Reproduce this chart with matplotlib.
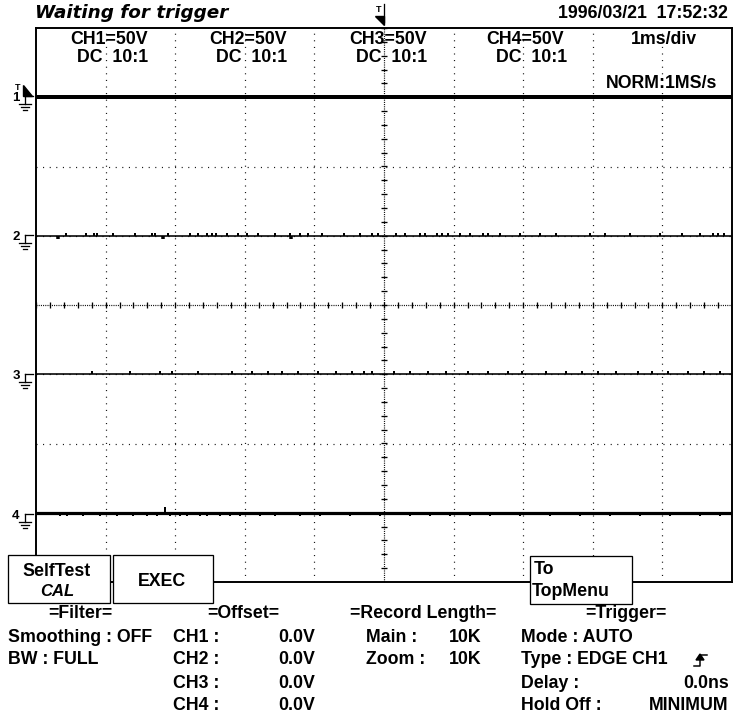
import numpy as np
import matplotlib
matplotlib.use("Agg")
import matplotlib.pyplot as plt
from matplotlib.patches import Rectangle, Polygon

plt.rcParams['lines.scale_dashes'] = False
FONT = ['Liberation Sans', 'DejaVu Sans']

# ---------------- data ----------------
channels = ["CH1", "CH2", "CH3", "CH4"]
channel_levels_div = [3, 1, -1, -3]          # ground reference of each trace (div)
volts_per_div = ["50V", "50V", "50V", "50V"]
coupling = ["DC  10:1", "DC  10:1", "DC  10:1", "DC  10:1"]
timebase = "1ms/div"
sample_rate = "NORM:1MS/s"
offsets = ["0.0V", "0.0V", "0.0V", "0.0V"]

# small glitches on the flat traces (time in ms, height in div)
ch1_glitch_t = [-4.61, -4.37, -4.18, -4.04, -3.94, -3.36, -3.22, -3.03, -2.60, -2.46, -2.36,
                -2.17, -1.97, -1.88, -1.54, -1.45, -0.73, -0.59, -0.39, -0.10, 0.24, 0.43,
                0.68, 1.11, 1.25, 1.62, 1.97, 2.16, 2.26, 2.40, 2.77, 2.97, 3.06, 3.16, 3.35,
                3.49, 3.69, 3.84, 4.02, 4.50, 4.64]
ch1_glitch_h = 0.035
ch2_glitch_t = [-4.57, -4.28, -4.17, -4.12, -3.89, -3.58, -3.33, -3.29, -3.10, -2.79, -2.67,
                -2.54, -2.47, -2.41, -2.26, -2.10, -1.97, -1.81, -1.57, -1.35, -1.21, -1.09,
                -0.89, -0.57, -0.34, -0.17, -0.09, 0.17, 0.30, 0.52, 0.59, 0.76, 0.83, 0.92,
                1.09, 1.24, 1.42, 1.49, 1.67, 1.95, 2.24, 2.47, 2.96, 3.18, 3.53, 3.97, 4.28,
                4.54, 4.73, 4.80, 4.89]
ch2_glitch_h = 0.045
ch2_dip_t = [-4.68, -3.18, -1.33]
ch2_dip_h = -0.05
ch3_glitch_t = [-4.20, -3.65, -3.22, -3.05, -2.67, -2.18, -1.90, -1.67, -1.47, -1.24, -0.95,
                -0.69, -0.46, -0.29, -0.17, 0.14, 0.37, 0.63, 0.89, 1.21, 1.49, 1.78, 1.98,
                2.33, 2.61, 2.84, 3.07, 3.33, 3.65, 3.85, 4.08, 4.37, 4.60, 4.83]
ch3_glitch_h = 0.045
ch4_glitch_t = [-4.66, -4.55, -4.32, -4.08, -3.84, -3.61, -3.41, -3.26, -3.07, -2.93, -2.83,
                -2.64, -2.54, -2.36, -2.21, -2.07, -1.78, -1.57, -1.21, -0.92, -0.49, -0.06,
                0.37, 0.66, 0.95, 1.24, 1.52, 1.95, 2.39, 2.82, 3.25, 3.68, 4.11, 4.54, 4.83]
ch4_glitch_h = -0.04
ch4_spike_t = [-3.15]
ch4_spike_h = 0.08

filter_lines = ["Smoothing : OFF", "BW : FULL"]
record_labels = ["Main :", "Zoom :"]
record_values = ["10K", "10K"]
trigger_labels = ["Mode : AUTO", "Type : EDGE CH1", "Delay :", "Hold Off :"]
trigger_values = ["", "", "0.0ns", "MINIMUM"]

# ---------------- figure ----------------
W, H = 734, 718
fig = plt.figure(figsize=(W / 100, H / 100), dpi=100)
fig.patch.set_facecolor('white')

L, R, T, B = 36, 732, 28, 582
ax = fig.add_axes([L / W, 1 - B / H, (R - L) / W, (B - T) / H])
ax.set_xlim(-5, 5)
ax.set_ylim(-4, 4)
ax.set_xticks([]); ax.set_yticks([])
for s in ax.spines.values():
    s.set_linewidth(1.4)
    s.set_color('black')

px = 0.72  # one pixel in points
dot = (0, (px, 5.6 * px))
for t in range(-4, 5):
    if t != 0:
        ax.axvline(t, color='black', lw=1.2 * px, linestyle=dot, zorder=1)
for y in range(-3, 4):
    if y != 0:
        ax.axhline(y, color='black', lw=1.2 * px, linestyle=dot, zorder=1)
# centre graticule
dense = (0, (px, 1.2 * px))
ax.axvline(0, color='black', lw=1.2 * px, linestyle=dense, zorder=1)
ax.axhline(0, color='black', lw=1.2 * px, linestyle=dense, zorder=1)
minor_y = np.arange(-4, 4.01, 0.2)
minor_x = np.arange(-5, 5.01, 0.2)
ax.hlines(minor_y, -0.05, 0.05, color='black', lw=1.3 * px, zorder=2)
ax.vlines(minor_x, -0.05, 0.05, color='black', lw=1.3 * px, zorder=2)

# traces
trace_lw = [4.0, 1.6, 1.6, 3.2]
for lvl, lw in zip(channel_levels_div, trace_lw):
    ax.hlines(lvl, -5, 5, color='black', lw=lw * px, zorder=3)

def glitches(ts, lvl, h, lw=2.0):
    ax.vlines(ts, lvl, lvl + h, color='black', lw=lw * px, zorder=3)

glitches(ch1_glitch_t, channel_levels_div[0], ch1_glitch_h)
glitches(ch2_glitch_t, channel_levels_div[1], ch2_glitch_h)
glitches(ch2_dip_t, channel_levels_div[1], ch2_dip_h, lw=3.5)
glitches(ch3_glitch_t, channel_levels_div[2], ch3_glitch_h)
glitches(ch4_glitch_t, channel_levels_div[3], ch4_glitch_h)
glitches(ch4_spike_t, channel_levels_div[3], ch4_spike_h)

# ---------------- overlay (pixel coordinates) ----------------
ov = fig.add_axes([0, 0, 1, 1], zorder=5)
ov.set_xlim(0, W)
ov.set_ylim(H, 0)
ov.axis('off')

FS = 12.8
def txt(x, y, s, ha='left', style='normal', size=FS, weight='bold', family=FONT):
    ov.text(x, y, s, ha=ha, va='center', fontsize=size, fontweight=weight,
            fontstyle=style, family=family, color='black')

txt(35, 13, "Waiting for trigger", style='italic', size=13.2,
    family=['DejaVu Sans'])
txt(728, 13, "1996/03/21  17:52:32", ha='right')

row1_right = [148, 287, 427, 564]
row2_right = [148, 287, 427, 567]
for ch, v, c, r1, r2 in zip(channels, volts_per_div, coupling, row1_right, row2_right):
    txt(r1, 39, f"{ch}={v}", ha='right')
    txt(r2, 57, c, ha='right')
txt(697, 39, timebase, ha='right')
txt(717, 83, sample_rate, ha='right')

# channel markers
def ground(x, y):
    ov.plot([x, x], [y - 1, y + 7], color='black', lw=1.3 * px)
    ov.plot([x, x + 8], [y - 1, y - 1], color='black', lw=1.3 * px)
    for i, w in enumerate([6, 4, 2]):
        ov.plot([x - w, x + w], [y + 7 + 3 * i, y + 7 + 3 * i], color='black', lw=1.3 * px)

ch_pix_y = [97, 236, 375, 515]
for i, y in enumerate(ch_pix_y):
    txt(16, y + 1, str(i + 1), ha='center', size=9.5)
    ground(25, y)
txt(18, 88, "T", ha='center', size=6.5)
ov.add_patch(Polygon([[23, 85], [23, 96], [32, 96]], closed=True, color='black'))

# trigger position marker at top
txt(379, 9, "T", ha='center', size=6.5)
ov.plot([384, 384], [4, 22], color='black', lw=1.3 * px)
ov.add_patch(Polygon([[375, 16], [384, 16], [384, 25]], closed=True, color='black'))

# soft-key boxes
def box(x0, y0, x1, y1):
    ov.add_patch(Rectangle((x0, y0), x1 - x0, y1 - y0, facecolor='white',
                           edgecolor='black', lw=1.3 * px, zorder=6))
box(8, 555, 110, 603)
box(113, 555, 213, 603)
box(530, 556, 632, 604)
ov.text(57, 571, "SelfTest", ha='center', va='center', fontsize=FS, fontweight='bold',
        family=FONT, zorder=7)
ov.text(57, 591, "CAL", ha='center', va='center', fontsize=FS - 0.8, fontweight='bold',
        fontstyle='italic', family=FONT, zorder=7)
ov.text(162, 581, "EXEC", ha='center', va='center', fontsize=FS, fontweight='bold',
        family=FONT, zorder=7)
ov.text(534, 570, "To", ha='left', va='center', fontsize=FS, fontweight='bold',
        family=FONT, zorder=7)
ov.text(532, 592, "TopMenu", ha='left', va='center', fontsize=FS, fontweight='bold',
        family=FONT, zorder=7)

# bottom information panel
rows = [614, 637, 660, 683, 705]
txt(80, rows[0], "=Filter=", ha='center')
for i, s in enumerate(filter_lines):
    txt(8, rows[i + 1], s)
txt(243, rows[0], "=Offset=", ha='center')
for i, (ch, o) in enumerate(zip(channels, offsets)):
    txt(173, rows[i + 1], f"{ch} :")
    txt(315, rows[i + 1], o, ha='right')
txt(423, rows[0], "=Record Length=", ha='center')
for i, (lab, val) in enumerate(zip(record_labels, record_values)):
    txt(366, rows[i + 1], lab)
    txt(482, rows[i + 1], val, ha='right')
txt(626, rows[0], "=Trigger=", ha='center')
for i, (lab, val) in enumerate(zip(trigger_labels, trigger_values)):
    txt(521, rows[i + 1], lab)
    if val:
        txt(729, rows[i + 1], val, ha='right')
# rising-edge symbol
ey = rows[2]
ov.plot([694, 700, 700, 707], [ey + 6, ey + 6, ey - 5, ey - 5], color='black', lw=1.5 * px)
ov.add_patch(Polygon([[696, ey], [704, ey], [700, ey - 6]], closed=True, color='black'))

fig.savefig("out.png", dpi=100, facecolor='white')
